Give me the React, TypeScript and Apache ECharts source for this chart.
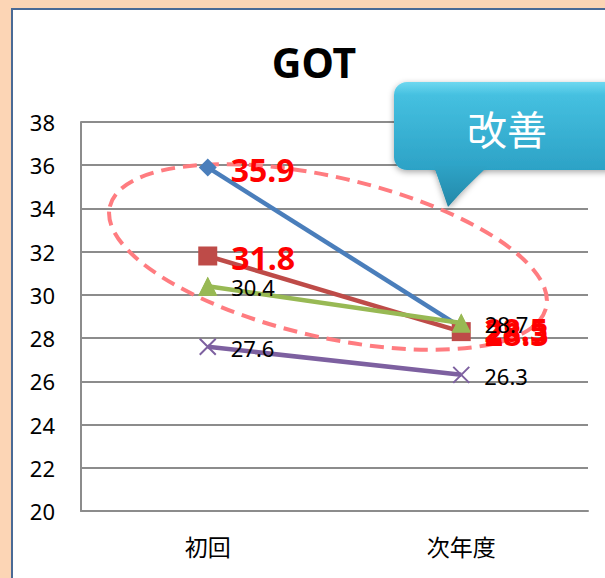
import React, { useEffect, useRef } from "react";
import * as echarts from "echarts";

const categories = ["初回", "次年度"];
const seriesBlue = [35.9, 28.5];
const seriesRed = [31.8, 28.3];
const seriesGreen = [30.4, 28.7];
const seriesPurple = [27.6, 26.3];
const yTicks = { min: 20, max: 38, interval: 2 };
const titleText = "GOT";
const calloutText = "改善";

const FONT = "'Noto Sans', 'Noto Sans CJK JP', sans-serif";

export default function App() {
  const ref = useRef<HTMLDivElement>(null);
  useEffect(() => {
    if (!ref.current) return;
    const chart = echarts.init(ref.current, null, { renderer: "svg" });
    const redLabel = {
      show: true,
      position: "right" as const,
      distance: 14,
      offset: [0, 2],
      color: "#FF0000",
      fontSize: 32,
      fontWeight: "bold" as const,
      fontFamily: FONT,
    };
    const blackLabel = {
      show: true,
      position: "right" as const,
      distance: 14,
      offset: [0, 1],
      color: "#000000",
      opacity: 1,
      fontSize: 22,
      fontFamily: FONT,
    };
    chart.setOption({
      animation: false,
      backgroundColor: "transparent",
      grid: { left: 81, right: 17, top: 122, bottom: 67 },
      xAxis: {
        type: "category",
        data: categories,
        axisLine: { lineStyle: { color: "#8C8C8C", width: 2 } },
        axisTick: { show: false },
        axisLabel: { color: "#000", fontSize: 23, margin: 24, fontFamily: FONT },
      },
      yAxis: {
        type: "value",
        min: yTicks.min,
        max: yTicks.max,
        interval: yTicks.interval,
        axisLine: { show: true, lineStyle: { color: "#8C8C8C", width: 2 } },
        axisTick: { show: false },
        splitLine: { lineStyle: { color: "#8C8C8C", width: 2 } },
        axisLabel: { color: "#000", fontSize: 22, margin: 26, fontFamily: FONT },
      },
      series: [
        {
          type: "line",
          data: seriesBlue,
          symbol: "diamond",
          symbolSize: 18,
          lineStyle: { color: "#4A7EBB", width: 4.5 },
          itemStyle: { color: "#4A7EBB" },
          label: redLabel,
          z: 2,
        },
        {
          type: "line",
          data: seriesRed,
          symbol: "rect",
          symbolSize: 19,
          lineStyle: { color: "#BE4B48", width: 4.5 },
          itemStyle: { color: "#BE4B48" },
          label: redLabel,
          z: 3,
        },
        {
          type: "line",
          data: seriesGreen,
          symbol: "triangle",
          symbolSize: 19,
          lineStyle: { color: "#98B954", width: 4.5 },
          itemStyle: { color: "#98B954" },
          label: { show: false },
          z: 4,
        },
        {
          type: "line",
          data: seriesPurple,
          symbol: "path://M0,0L10,10M10,0L0,10",
          symbolSize: 16,
          lineStyle: { color: "#7D60A0", width: 4.5 },
          itemStyle: { color: "#7D60A0", borderColor: "#7D60A0", borderWidth: 2 },
          label: blackLabel,
          z: 5,
        },
        {
          type: "scatter",
          data: seriesGreen,
          symbol: "triangle",
          symbolSize: 19,
          itemStyle: { color: "#98B954", opacity: 1 },
          label: blackLabel,
          z: 20,
          zlevel: 1,
        },
      ],
      graphic: [
        {
          type: "text",
          x: 314,
          y: 62,
          z: 10,
          style: {
            text: titleText,
            fill: "#000",
            font: "bold 41px " + FONT,
            textAlign: "center",
            textVerticalAlign: "middle",
          },
        },
        {
          type: "ellipse",
          x: 328,
          y: 257,
          rotation: (-13 * Math.PI) / 180,
          z: 1,
          shape: { cx: 0, cy: 0, rx: 224, ry: 80 },
          style: { fill: "none", stroke: "#FF7C80", lineWidth: 4, lineDash: [14, 8] },
        },
        {
          type: "group",
          zlevel: 2,
          z: 100,
          children: [
            {
              type: "polygon",
              z: 100,
              shape: { points: [[432, 160], [490, 160], [448, 207]] },
              style: {
                fill: new echarts.graphic.LinearGradient(0, 0, 0, 1, [
                  { offset: 0, color: "#34AECF" },
                  { offset: 1, color: "#227F9C" },
                ]),
                shadowBlur: 6,
                shadowColor: "rgba(0,0,0,0.35)",
                shadowOffsetY: 2,
              },
            },
            {
              type: "rect",
              z: 101,
              shape: { x: 394, y: 82, width: 240, height: 88, r: 13 },
              style: {
                fill: new echarts.graphic.LinearGradient(0, 0, 0, 1, [
                  { offset: 0, color: "#6ED8F0" },
                  { offset: 0.15, color: "#45C0E0" },
                  { offset: 1, color: "#2CA2C6" },
                ]),
                shadowBlur: 6,
                shadowColor: "rgba(0,0,0,0.35)",
                shadowOffsetY: 2,
              },
            },
            {
              type: "polygon",
              z: 102,
              shape: { points: [[434, 166], [488, 166], [448, 205]] },
              style: {
                fill: new echarts.graphic.LinearGradient(0, 0, 0, 1, [
                  { offset: 0, color: "#2EA3C6" },
                  { offset: 1, color: "#2389AA" },
                ]),
              },
            },
            {
              type: "text",
              x: 507,
              y: 128,
              z: 103,
              style: {
                text: calloutText,
                fill: "#FFFFFF",
                font: "40px 'Noto Sans CJK JP', sans-serif",
                textAlign: "center",
                textVerticalAlign: "middle",
              },
            },
          ],
        },
      ],
    });
    return () => chart.dispose();
  }, []);
  return (
    <div
      style={{
        position: "absolute",
        left: 0,
        top: 0,
        width: 605,
        height: 578,
        background: "#FCD5B5",
        overflow: "hidden",
      }}
    >
      <div
        style={{
          position: "absolute",
          left: 11,
          top: 8,
          width: 620,
          height: 600,
          background: "#FFFFFF",
          border: "2px solid #4A6A96",
        }}
      />
      <div ref={ref} style={{ position: "absolute", left: 0, top: 0, width: 605, height: 578 }} />
    </div>
  );
}
